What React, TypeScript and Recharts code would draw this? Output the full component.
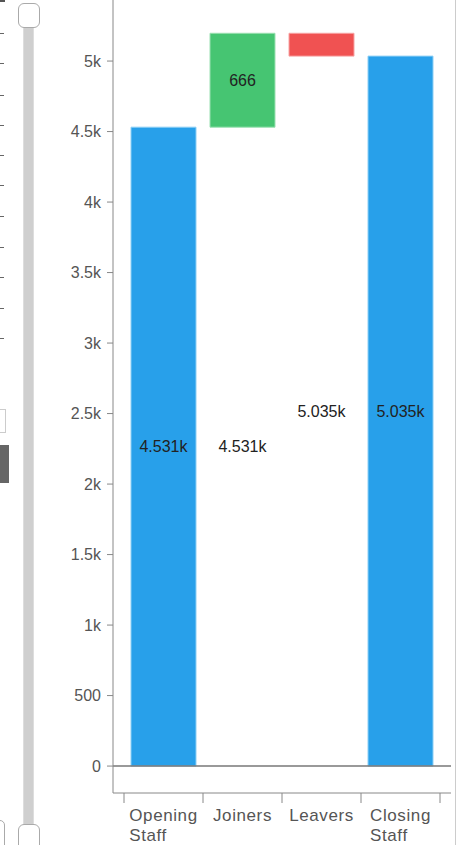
import { BarChart, Bar, XAxis, YAxis, Cell, LabelList, ReferenceLine } from "recharts"

const categories = ["Opening Staff", "Joiners", "Leavers", "Closing Staff"]
const baseValues = [4531, 4531, 5035, 5035]
const changeValues = [0, 666, 162, 0]
const yTicks = [0, 500, 1000, 1500, 2000, 2500, 3000, 3500, 4000, 4500, 5000]

const BLUE = "#28a0ea"
const GREEN = "#46c572"
const RED = "#f05252"

const baseFills = [BLUE, "transparent", "transparent", BLUE]
const baseStrokes = ["#8ccff5", "none", "none", "#8ccff5"]
const changeFills = ["transparent", GREEN, RED, "transparent"]
const changeStrokes = ["none", "#9be0b2", "#f7a3a3", "none"]

const data = categories.map((name, i) => ({
  name,
  base: baseValues[i],
  change: changeValues[i],
}))

const FONT = "Liberation Sans, Arial, sans-serif"
const CAT_FONT_SIZE = 17
const CAT_SPACING = 0.6

const fmtK = (v: number) => {
  if (v < 1000) return String(v)
  return `${parseFloat((v / 1000).toFixed(3))}k`
}

let ctx: CanvasRenderingContext2D | null = null
const textWidth = (s: string) => {
  if (!ctx) ctx = document.createElement("canvas").getContext("2d")
  if (!ctx) return s.length * 9
  ctx.font = `${CAT_FONT_SIZE}px ${FONT}`
  return ctx.measureText(s).width + CAT_SPACING * s.length
}

const CategoryTick = (props: any) => {
  const { x, y, payload, index, visibleTicksCount } = props
  const half = payload.offset || 0
  const words = String(payload.value).split(" ")
  const isLast = index === visibleTicksCount - 1
  const blockW = Math.max(...words.map(textWidth))
  const left = x - blockW / 2
  return (
    <g>
      <line x1={x - half} x2={x - half} y1={y} y2={y + 10} stroke="#888" />
      {isLast && <line x1={x + half} x2={x + half} y1={y} y2={y + 10} stroke="#888" />}
      <text x={left} y={y + 28} textAnchor="start" fill="#555" fontSize={CAT_FONT_SIZE} letterSpacing={CAT_SPACING} fontFamily={FONT}>
        {words.map((w, i) => (
          <tspan key={i} x={left} dy={i === 0 ? 0 : 20}>
            {w}
          </tspan>
        ))}
      </text>
    </g>
  )
}

const ChangeLabel = (props: any) => {
  const { x, y, width, height, value } = props
  if (!value || height < 30) return null
  return (
    <text x={x + width / 2} y={y + height / 2} textAnchor="middle" dominantBaseline="central" fill="#222" fontSize={16} fontFamily={FONT}>
      {fmtK(value)}
    </text>
  )
}

const BaseLabel = (props: any) => {
  const { x, y, width, height, value } = props
  return (
    <text x={x + width / 2} y={y + height / 2} textAnchor="middle" dominantBaseline="central" fill="#222" fontSize={16} fontFamily={FONT}>
      {fmtK(value)}
    </text>
  )
}

const leftTicks = [33, 63, 95, 125, 155, 185, 216, 247, 277, 308, 338]

export default function App() {
  return (
    <div style={{ position: "absolute", left: 0, top: 0, width: 459, height: 845, background: "#fff", overflow: "hidden" }}>
      {/* slider at the left */}
      <div style={{ position: "absolute", left: 23, top: 20, width: 9, height: 815, background: "#cfcfcf", borderLeft: "1px solid #ddd", borderRight: "1px solid #ddd" }} />
      <div style={{ position: "absolute", left: 18, top: 3, width: 20, height: 23, background: "#fff", border: "1px solid #aaa", borderRadius: 6 }} />
      <div style={{ position: "absolute", left: 18, top: 824, width: 20, height: 30, background: "#fff", border: "1px solid #aaa", borderRadius: 6 }} />
      <div style={{ position: "absolute", left: 0, top: 0, width: 5, height: 2, background: "#555" }} />
      {leftTicks.map((t) => (
        <div key={t} style={{ position: "absolute", left: 0, top: t, width: 4, height: 1, background: "#666" }} />
      ))}
      <div style={{ position: "absolute", left: -4, top: 409, width: 8, height: 22, border: "1px solid #ccc" }} />
      <div style={{ position: "absolute", left: 0, top: 445, width: 9, height: 38, background: "#666" }} />
      <div style={{ position: "absolute", left: -10, top: 820, width: 13, height: 30, border: "1px solid #aaa", borderRadius: 5 }} />
      <div style={{ position: "absolute", left: 455, top: 0, width: 1, height: 845, background: "#ccc" }} />

      <div style={{ position: "absolute", left: 0, top: 0 }}>
        <BarChart width={459} height={845} data={data} margin={{ top: 0, right: 8, bottom: 0, left: 0 }} barSize={65}>
          <XAxis
            dataKey="name"
            height={52}
            padding={{ left: 11, right: 11 }}
            interval={0}
            tickLine={false}
            tickSize={0}
            tickMargin={0}
            axisLine={{ stroke: "#888" }}
            tick={<CategoryTick />}
          />
          <YAxis
            width={113}
            domain={[-191, 5433]}
            allowDataOverflow
            ticks={yTicks}
            tickFormatter={fmtK}
            tickSize={6}
            tickMargin={6}
            axisLine={{ stroke: "#888" }}
            tickLine={{ stroke: "#888" }}
            tick={{ fill: "#555", fontSize: 16, fontFamily: FONT }}
          />
          <ReferenceLine y={0} stroke="#777" strokeWidth={1.5} />
          <Bar dataKey="base" stackId="w" isAnimationActive={false}>
            {data.map((_, i) => (
              <Cell key={`b-${i}`} fill={baseFills[i]} stroke={baseStrokes[i]} />
            ))}
            <LabelList dataKey="base" content={<BaseLabel />} />
          </Bar>
          <Bar dataKey="change" stackId="w" isAnimationActive={false}>
            {data.map((_, i) => (
              <Cell key={`c-${i}`} fill={changeFills[i]} stroke={changeStrokes[i]} />
            ))}
            <LabelList dataKey="change" content={<ChangeLabel />} />
          </Bar>
        </BarChart>
      </div>
    </div>
  )
}
